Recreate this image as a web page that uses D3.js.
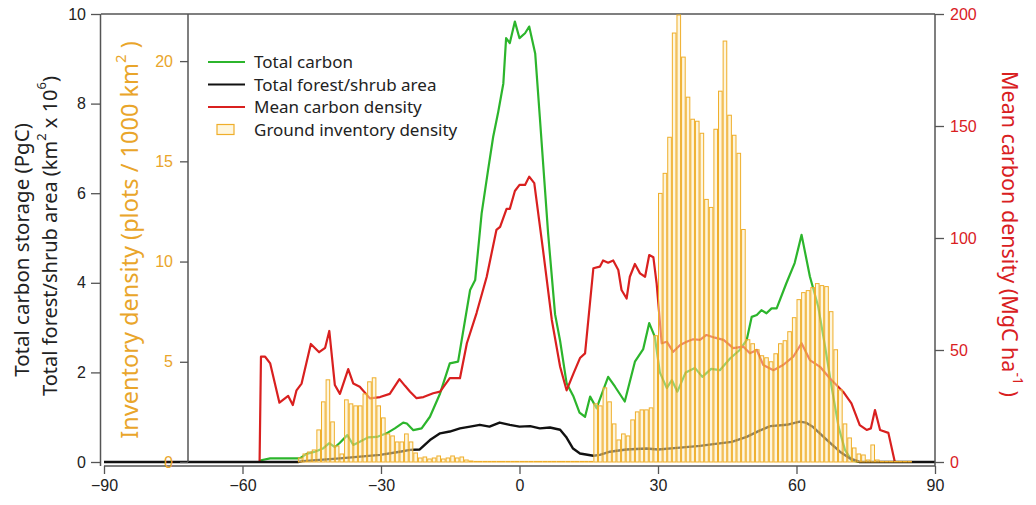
<!DOCTYPE html>
<html>
<head>
<meta charset="utf-8">
<title>Carbon by latitude</title>
<script src="https://d3js.org/d3.v7.min.js"></script>
<style>
	html, body { margin:0; padding:0; background:#fff; }
	svg { display:block; font-family:"Noto Sans", "Open Sans", sans-serif; }
	.tick text { font-size:16px; }
	.legend text { font-size:17px; fill:#222; }
</style>
</head>
<body>
<svg id="chart" width="1036" height="505"></svg>
<script>
// --- data ---
// total carbon (PgC), left axis
var carbonLat = [-90,-56.3,-56,-54,-47.6,-46.1,-44.3,-42.6,-41.2,-40,-38.9,-37.3,-36,-34.6,-32.8,-30.9,-28.8,-27,-25.2,-24.4,-23,-21.2,-19.4,-17.2,-15.1,-13.3,-10.7,-9.6,-8.2,-6.8,-5.7,-4.6,-3.5,-2.9,-2.1,-1,0,1.2,2.1,3.4,4.4,6.2,7.7,8.8,10.2,11.7,13,14.2,15.3,16.7,19.2,20.7,22.8,25,26.8,28.1,29.3,30.4,31.9,33,34.2,36,38,39.6,41.5,43.4,45.6,47.7,49.2,50.3,51.4,52.4,53.5,54.6,55.7,57.8,59.6,61.1,62.9,64.7,66.2,67.6,69.1,70.5,71.9,73.4,90];
var carbonVal = [0,0,0.04,0.08,0.08,0.18,0.23,0.3,0.42,0.33,0.43,0.6,0.38,0.45,0.55,0.56,0.64,0.75,0.88,0.86,0.71,0.75,1.01,1.53,2.2,2.24,3.84,4.06,5.55,6.52,7.26,7.82,8.45,9.46,9.35,9.83,9.46,9.57,9.72,9.12,7.7,5.1,3.3,2.7,1.76,1.46,1.1,1.01,1.46,1.2,1.9,1.68,1.35,2.24,2.52,3.1,2.8,2.0,1.65,1.83,1.57,2.0,2.1,1.9,2.08,2.05,2.31,2.5,2.72,3.24,3.28,3.39,3.32,3.43,3.43,3.99,4.44,5.07,4.14,3.47,2.57,1.68,0.79,0.27,0.04,0,0];

// total forest/shrub area (km2 x 10^6), left axis
var areaLat = [-90,-48,-47,-38.9,-30.2,-25.9,-23.7,-21.6,-19.4,-17.2,-15.1,-12.9,-10.7,-8.6,-6.5,-4.3,-2.1,0,2.3,4.4,6.6,8.8,10.1,11.6,13.1,16,17.4,19.6,23.1,27.5,30,34.8,39.1,42,46,49.2,52,54.3,57.9,60.7,62,63.6,66.5,69.4,71.6,73.7,90];
var areaVal = [0,0,0.02,0.08,0.16,0.23,0.27,0.28,0.49,0.64,0.68,0.75,0.79,0.83,0.79,0.88,0.83,0.79,0.8,0.75,0.77,0.72,0.56,0.3,0.19,0.14,0.16,0.23,0.28,0.3,0.28,0.32,0.36,0.4,0.45,0.56,0.7,0.8,0.83,0.9,0.88,0.78,0.5,0.23,0.08,0,0];

// mean carbon density (MgC/ha), right axis
var densLat = [-90,-56.3,-56,-55.1,-54,-52,-50.1,-49.1,-48.3,-47.2,-45.2,-43.4,-42.1,-41.2,-40,-38.9,-37.1,-36,-34.6,-32.4,-30.2,-28.1,-26,-24.8,-23.7,-22.3,-20.8,-18.7,-17.2,-15.1,-12.9,-11.4,-9.3,-7.1,-5,-4.2,-2.8,-2.1,-1,0,1.2,2.1,3.2,5.1,7,8.8,10.2,11.7,13.1,14.2,16,17.4,18.1,19.2,20.3,21.4,22.1,23.2,23.9,25,26.1,27.2,28.1,29,29.7,30.8,31.9,33.3,34.8,36.2,37.6,39.1,40.5,42.3,44.2,46.3,48.5,49.9,51.4,52.8,55,57.1,59.3,61.1,62.9,65.1,67.2,70.1,71.9,73.7,75.2,76.1,77,78.1,79.9,81.3,90];
var densVal = [0,0,47,47,44,26.5,29.5,25.4,32,35,52.7,49,51,58.5,34.4,30.4,41.5,35,33.6,28.4,29,30.4,37,34,31.4,28.5,29,30.7,31.4,37.4,37.4,53,66.5,82.7,103.6,105,113,113,121,123.7,123.7,127.4,124.5,94.6,63.4,42.5,32,39.6,46.4,48.5,86.5,87.2,90,89,90,85.7,76.8,73,82.7,88.4,84.2,82.7,92.4,91.4,79.8,53,53.7,49.2,52.2,53.7,54.8,54.5,56.7,55.5,54.5,50.8,51.5,48.5,50,43.3,41,43.3,47,53,45.5,42.5,37.4,31.4,26.2,16.5,14.3,15,23.2,14.3,13,0,0];

// ground inventory density (plots / 1000 km2), 1 degree bins starting at -56
var invStart = -56;
var invVal = [0,0,0,0,0,0,0,0,
	0.2,0.4,0.5,0.6,1.6,3.0,4.1,2.0,0.8,0.4,
	3.1,2.9,2.8,2.8,3.4,4.0,4.2,2.8,2.2,1.4,1.3,1.0,1.0,1.4,1.0,0.45,
	0.2,0.25,0.15,0.2,0.3,0.15,0.2,0.3,0.2,0.25,0.1,0.05,
	0.03,0.03,0.03,0.03,0.03,0.03,0.03,0.03,0.03,0.03,0.03,0.03,0.03,
	0.03,0.03,0.03,0.03,0.03,0.03,0.03,0.03,0.03,0.03,0.03,0.03,0.03,
	2.9,2.8,3.7,3.0,1.9,1.1,1.4,1.3,2.1,2.5,2.6,2.6,2.7,6.3,
	13.4,14.4,16.2,21.4,22.3,20.2,18.2,17.1,17.0,16.4,13.1,12.7,16.6,18.5,21.0,17.3,16.3,15.4,11.6,
	6.1,5.9,5.6,5.3,5.2,5.0,5.4,5.9,6.05,6.5,7.2,8.1,8.45,8.55,8.7,8.9,8.8,8.75,7.5,5.6,3.6,1.9,1.2,0.7,0.4,0.35,0.1,0.85,0.1,
	0.03,0.03,0.03,0.03,0.03,0.03,0.03];

var xTicks = [-90,-60,-30,0,30,60,90];
var leftTicks = [0,2,4,6,8,10];
var invTicks = [0,5,10,15,20];
var rightTicks = [0,50,100,150,200];

var legendItems = [
	{name:"Total carbon", color:"#2cb52c", type:"line"},
	{name:"Total forest/shrub area", color:"#111", type:"line"},
	{name:"Mean carbon density", color:"#d9201f", type:"line"},
	{name:"Ground inventory density", color:"#efae2a", type:"box"}
];

var ORANGE = "#e9a52a", RED = "#d9201f", GREEN = "#2cb52c";

var svg = d3.select("#chart");

var x = d3.scaleLinear().domain([-90, 90]).range([104, 935]);
var yL = d3.scaleLinear().domain([0, 10]).range([462, 14]);
var yR = d3.scaleLinear().domain([0, 200]).range([462, 14]);
var yI = d3.scaleLinear().domain([0, 22.35]).range([462, 14]);

// frame top line
svg.append("line").attr("x1", 101).attr("x2", 935).attr("y1", 14).attr("y2", 14)
	.attr("stroke", "#555").attr("stroke-width", 1.5);

// lines
function drawLine(lat, val, yScale, color, w) {
	var pts = lat.map(function(d, i) { return [d, val[i]]; });
	var line = d3.line().x(function(d) { return x(d[0]); }).y(function(d) { return yScale(d[1]); });
	svg.append("path").datum(pts).attr("d", line)
		.attr("fill", "none").attr("stroke", color).attr("stroke-width", w)
		.attr("stroke-linejoin", "round");
}
drawLine(carbonLat, carbonVal, yL, GREEN, 2.2);
drawLine(densLat, densVal, yR, RED, 2.2);
drawLine(areaLat, areaVal, yL, "#111", 2.4);

// bars on top, semi transparent
var bars = invVal.map(function(v, i) { return {lat: invStart + i, v: v}; });
svg.append("g").selectAll("rect").data(bars).enter().append("rect")
	.attr("x", function(d) { return x(d.lat) + 0.5; })
	.attr("width", function(d) { return x(d.lat + 1) - x(d.lat) - 1; })
	.attr("y", function(d) { return yI(d.v); })
	.attr("height", function(d) { return Math.max(0, yI(0) - yI(d.v)); })
	.attr("fill", "#fdedbd").attr("fill-opacity", 0.5)
	.attr("stroke", "#efae2a").attr("stroke-width", 1);

// axes
var xAxis = svg.append("g").attr("transform", "translate(0,466)")
	.call(d3.axisBottom(x).tickValues(xTicks).tickSize(8).tickPadding(6).tickFormat(d3.format("d")));
var leftAxis = svg.append("g").attr("transform", "translate(101,0)")
	.call(d3.axisLeft(yL).tickValues(leftTicks).tickSize(10).tickPadding(5));
var invAxis = svg.append("g").attr("transform", "translate(188,0)")
	.call(d3.axisLeft(yI).tickValues(invTicks).tickSize(8).tickPadding(7));
var rightAxis = svg.append("g").attr("transform", "translate(935,0)")
	.call(d3.axisRight(yR).tickValues(rightTicks).tickSize(9).tickPadding(6));

[xAxis, leftAxis, invAxis, rightAxis].forEach(function(a) {
	a.select(".domain").attr("stroke", "#555").attr("stroke-width", 1.5);
	a.selectAll(".tick line").attr("stroke", "#555").attr("stroke-width", 1.3);
	a.selectAll(".tick text").attr("fill", "#222");
});
leftAxis.select(".domain").attr("d", "M-0.5,466V14");
invAxis.select(".domain").attr("d", "M0,462V14");
rightAxis.select(".domain").attr("d", "M0,466V14");
xAxis.select(".domain").attr("d", "M" + x(-90) + ",0H" + x(90));
invAxis.selectAll(".tick text").attr("fill", ORANGE);
rightAxis.selectAll(".tick text").attr("fill", RED);

// axis titles
var t1 = svg.append("text").attr("transform", "translate(29,250) rotate(-90)")
	.attr("text-anchor", "middle").attr("font-size", 20.5).attr("fill", "#222")
	.text("Total carbon storage (PgC)");
var t2 = svg.append("text").attr("transform", "translate(57,236) rotate(-90)")
	.attr("text-anchor", "middle").attr("font-size", 20).attr("fill", "#222");
t2.append("tspan").text("Total forest/shrub area (km");
t2.append("tspan").attr("dy", -11).attr("font-size", 13).text("2");
t2.append("tspan").attr("dy", 11).text(" x 10");
t2.append("tspan").attr("dy", -11).attr("font-size", 13).text("6");
t2.append("tspan").attr("dy", 11).text(")");

var t3 = svg.append("text").attr("transform", "translate(138,240) rotate(-90)")
	.attr("text-anchor", "middle").attr("font-size", 23.5).attr("fill", ORANGE);
t3.append("tspan").text("Inventory density (plots / 1000 km");
t3.append("tspan").attr("dy", -12).attr("font-size", 15).text("2");
t3.append("tspan").attr("dy", 12).text(" )");

var t4 = svg.append("text").attr("transform", "translate(1002,234) rotate(90)")
	.attr("text-anchor", "middle").attr("font-size", 21.5).attr("fill", RED);
t4.append("tspan").text("Mean carbon density (MgC ha");
t4.append("tspan").attr("dy", -11).attr("font-size", 14).text("-1");
t4.append("tspan").attr("dy", 11).text(" )");

// legend
var lg = svg.append("g").attr("class", "legend");
legendItems.forEach(function(d, i) {
	var yy = 62 + i * 22.5;
	if (d.type == "line") {
		lg.append("line").attr("x1", 208).attr("x2", 245).attr("y1", yy).attr("y2", yy)
			.attr("stroke", d.color).attr("stroke-width", 2.2);
	} else {
		lg.append("rect").attr("x", 217).attr("y", yy - 5).attr("width", 17).attr("height", 10)
			.attr("fill", "#fdedbd").attr("fill-opacity", 0.5).attr("stroke", d.color).attr("stroke-width", 1.2);
	}
	lg.append("text").attr("x", 254).attr("y", yy + 6).text(d.name);
});
</script>
</body>
</html>
